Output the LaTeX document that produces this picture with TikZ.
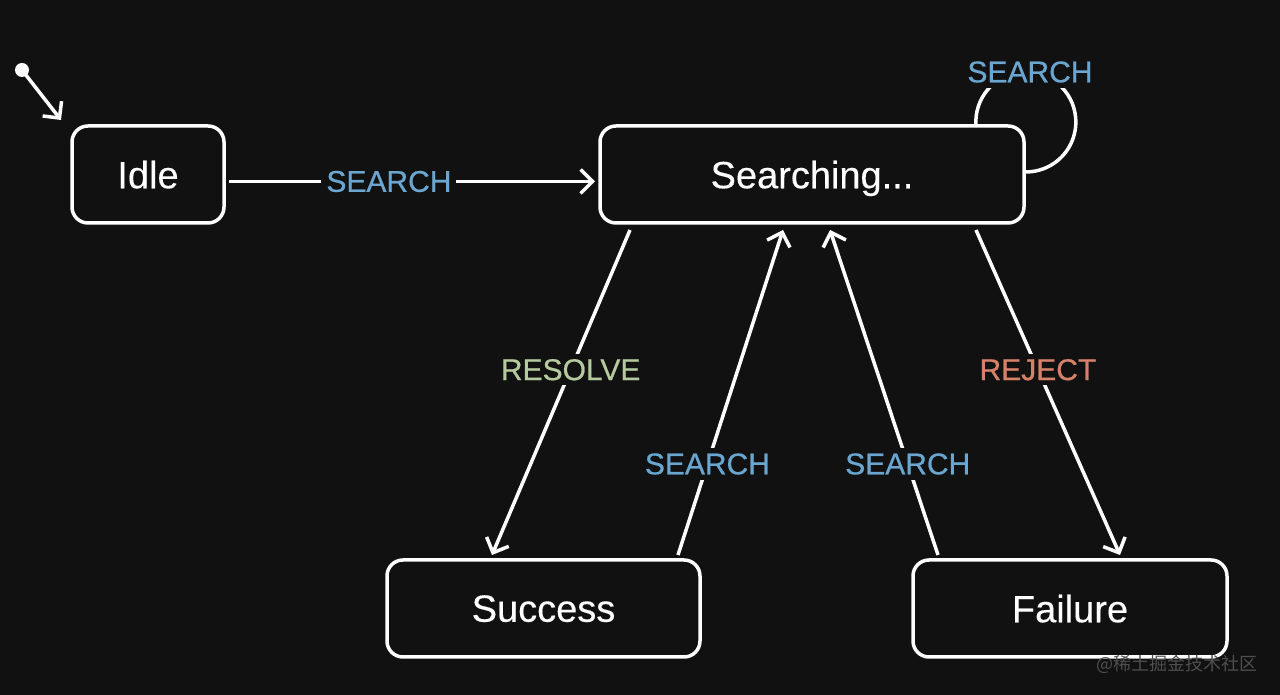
\documentclass[tikz,border=0pt]{standalone}
\usepackage{fontspec}
\setmainfont{Liberation Sans}
\newfontfamily\lblfont[FakeBold=0.6]{Liberation Sans}
\newfontfamily\statefont[FakeBold=0.3]{Liberation Sans}
\newfontfamily\cjk{Noto Sans CJK SC}
\usetikzlibrary{arrows.meta,calc}
\definecolor{bg}{HTML}{111111}
\definecolor{cblue}{HTML}{6AA6CF}
\definecolor{cgreen}{HTML}{B5CA9E}
\definecolor{cred}{HTML}{D6826A}
\definecolor{wm}{HTML}{4E4E4E}
\tikzset{
  state/.style={draw=white, line width=3.5pt, rounded corners=16pt, fill=bg,
    text=white, inner sep=0pt, outer sep=0pt, minimum height=97pt, text depth=0pt,
    font=\statefont\fontsize{38}{40}\selectfont},
  conn/.style={draw=white, line width=3.5pt, -{Straight Barb[length=12pt,width=24pt]}},
  plainconn/.style={draw=white, line width=3.5pt},
  lbl/.style={fill=bg, inner sep=5pt, font=\lblfont\fontsize{30}{32}\selectfont},
}
\begin{document}
\begin{tikzpicture}[x=1pt,y=1pt]
\useasboundingbox[fill=bg] (0,0) rectangle (1280,695);
% states
\node[state, minimum width=152pt] (idle) at (148,520.5) {Idle};
\node[state, minimum width=424pt] (search) at (812,520.5) {Searching...};
\node[state, minimum width=313pt] (success) at (543.5,86.5) {Success};
\node[state, minimum width=314pt] (failure) at (1070,86.5) {Failure};
% initial
\node[circle, fill=white, inner sep=0pt, minimum size=14pt] (init) at (22,625) {};
\coordinate (initend) at (61,575);
\draw[conn] (init.center) -- (initend);
% idle -> search
\draw[conn] ($(idle.east)+(5,-7)$) -- node[lbl, text=cblue, pos=0.437] (l1) {SEARCH} ($(search.west)+(-5,-7)$);
% self loop
\draw[plainconn] ($(search.north east)+(-48,0)$) arc[start angle=184.6, end angle=-92.3, radius=50];
\node[lbl, text=cblue] (l2) at (1030,623) {SEARCH};
% resolve
\draw[conn] ($(search.south west)+(30,-7)$) -- node[lbl, text=cgreen, pos=0.43] (l3) {RESOLVE} ($(success.north west)+(105,5)$);
% success -> search
\draw[conn] ($(success.north east)+(-22,5)$) -- node[lbl, text=cblue, pos=0.28] (l4) {SEARCH} ($(search.south west)+(183,-7)$);
% failure -> search
\draw[conn] ($(failure.north west)+(25,5)$) -- node[lbl, text=cblue, pos=0.28] (l5) {SEARCH} ($(search.south west)+(230,-7)$);
% reject
\draw[conn] ($(search.south east)+(-48,-7)$) -- node[lbl, text=cred, pos=0.43] (l6) {REJECT} ($(failure.north west)+(207,5)$);
% watermark
\node[text=wm, font=\cjk\fontsize{18}{20}\selectfont, inner sep=0pt] (wmark) at (1177,31) {@稀土掘金技术社区};
\end{tikzpicture}
\end{document}
